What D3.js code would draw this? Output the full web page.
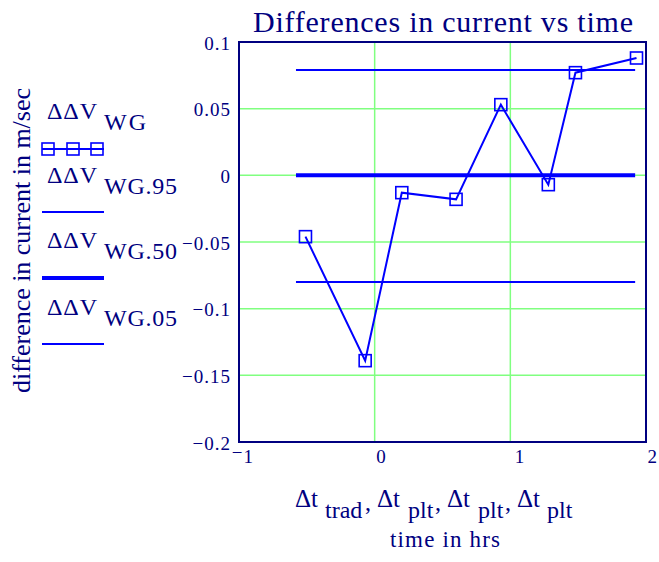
<!DOCTYPE html>
<html>
<head>
<meta charset="utf-8">
<title>Differences in current vs time</title>
<script src="https://d3js.org/d3.v7.min.js"></script>
<style>
    body { margin: 0; background: #fff; }
    svg { display: block; }
    svg text { font-family: "Liberation Serif", "Times New Roman", serif; fill: #000080; }
</style>
</head>
<body>
<svg width="659" height="562"></svg>
<script>
// data
var timeHrs = [-0.51, -0.07, 0.2, 0.6, 0.93, 1.28, 1.48, 1.93];
var diffWG  = [-0.046, -0.139, -0.013, -0.018, 0.053, -0.007, 0.077, 0.088];
var pctSpan = [-0.58, 1.92];
var pctNames  = ["WG.95", "WG.50", "WG.05"];
var pctValues = [0.079, 0, -0.08];
var xTicks = [-1, 0, 1, 2];
var yTicks = [0.1, 0.05, 0, -0.05, -0.1, -0.15, -0.2];
var xSubs = ["trad", "plt", "plt", "plt"];

var svg = d3.select("svg");
var navy = "#000080", blue = "#0000ff", green = "#80ff80";

var x = d3.scaleLinear().domain([-1, 2]).range([239, 646]);
var y = d3.scaleLinear().domain([-0.2, 0.1]).range([442, 42]);

function fmtY(v) {
    return String(+v.toFixed(2)).replace("-", "\u2212");
}
function fmtX(v) {
    return String(Math.abs(v));
}

// grid
svg.append("g").selectAll("line").data(xTicks.slice(1, -1)).join("line")
    .attr("x1", d => x(d)).attr("x2", d => x(d))
    .attr("y1", y(0.1)).attr("y2", y(-0.2))
    .attr("stroke", green).attr("stroke-width", 1.5);
svg.append("g").selectAll("line").data(yTicks.slice(1, -1)).join("line")
    .attr("x1", x(-1)).attr("x2", x(2))
    .attr("y1", d => y(d)).attr("y2", d => y(d))
    .attr("stroke", green).attr("stroke-width", 1.5);

// axes (labels only, Mathcad style)
var gy = svg.append("g").attr("transform", "translate(" + (x(-1) - 8) + ",0)")
    .call(d3.axisLeft(y).tickValues(yTicks).tickSize(0).tickPadding(0).tickFormat(fmtY));
gy.select(".domain").remove();
gy.selectAll("text").style("font-size", "19px").style("letter-spacing", "1px")
    .attr("dy", 7);

var gx = svg.append("g").attr("transform", "translate(0," + (y(-0.2) + 21) + ")")
    .call(d3.axisBottom(x).tickValues(xTicks).tickSize(0).tickPadding(0).tickFormat(fmtX));
gx.select(".domain").remove();
gx.selectAll("text").style("font-size", "19px")
    .attr("text-anchor", "start").attr("dy", 0).attr("dx", d => d === 1 || d === -1 ? 4 : 1);
gx.selectAll(".tick").filter(d => d < 0).append("text")
    .attr("x", 3).attr("y", -4).attr("text-anchor", "end").style("font-size", "19px")
    .text("\u2212");

// percentile lines
svg.append("g").selectAll("line").data(pctValues).join("line")
    .attr("x1", x(pctSpan[0])).attr("x2", x(pctSpan[1]))
    .attr("y1", d => y(d)).attr("y2", d => y(d))
    .attr("stroke", blue).attr("stroke-width", (d, i) => i === 1 ? 4 : 2);

// data series
var pts = timeHrs.map((t, i) => [t, diffWG[i]]);
svg.append("path").datum(pts)
    .attr("fill", "none").attr("stroke", blue).attr("stroke-width", 2)
    .attr("d", d3.line().x(d => x(d[0])).y(d => y(d[1])));
svg.append("g").selectAll("rect").data(pts).join("rect")
    .attr("x", d => x(d[0]) - 6).attr("y", d => y(d[1]) - 6)
    .attr("width", 12).attr("height", 12)
    .attr("fill", "none").attr("stroke", blue).attr("stroke-width", 1.6);

// frame
svg.append("rect").attr("x", x(-1)).attr("y", y(0.1))
    .attr("width", x(2) - x(-1)).attr("height", y(-0.2) - y(0.1))
    .attr("fill", "none").attr("stroke", navy).attr("stroke-width", 2);

// title
svg.append("text").attr("x", 253).attr("y", 32).style("font-size", "30px")
    .attr("textLength", 380).attr("lengthAdjust", "spacing")
    .text("Differences in current vs time");

// y label
svg.append("text").attr("transform", "translate(30,240.5) rotate(-90)")
    .attr("x", -152.5).style("font-size", "26px")
    .attr("textLength", 305).attr("lengthAdjust", "spacing")
    .text("difference in current in m/sec");

// x label
var subX = [325, 408, 478, 547];
var dtX = [295, 377, 447, 517];
var xl = svg.append("g");
xSubs.forEach(function (s, i) {
    if (i > 0) xl.append("text").attr("x", dtX[i] - 12).attr("y", 510)
        .style("font-size", "24px").text(",");
    xl.append("text").attr("x", dtX[i]).attr("y", 507).style("font-size", "25px").text("\u0394t");
    xl.append("text").attr("x", subX[i]).attr("y", 518).style("font-size", "24px").text(s);
});
svg.append("text").attr("x", 390).attr("y", 547).style("font-size", "23px")
    .attr("textLength", 110).attr("lengthAdjust", "spacing").text("time in hrs");

// legend
var legNames = ["WG"].concat(pctNames);
var leg = svg.append("g").selectAll("g").data(legNames).join("g")
    .attr("transform", (d, i) => "translate(0," + [0, 64, 129, 196][i] + ")");
leg.append("text").attr("x", 47).attr("y", 119).style("font-size", "24px")
    .attr("textLength", 50).attr("lengthAdjust", "spacing").text("\u0394\u0394V");
leg.append("text").attr("x", 104).attr("y", 130).style("font-size", "24px")
    .attr("textLength", (d, i) => i === 0 ? 42 : 73).attr("lengthAdjust", "spacing")
    .text(d => d);
leg.append("line").attr("x1", 42).attr("x2", 104)
    .attr("y1", (d, i) => i === 2 ? 149 : 149 - (i ? 1 : 0))
    .attr("y2", (d, i) => i === 2 ? 149 : 149 - (i ? 1 : 0))
    .attr("stroke", blue).attr("stroke-width", (d, i) => i === 2 ? 4 : 2);
leg.filter((d, i) => i === 0).selectAll("rect").data([48, 73, 97]).join("rect")
    .attr("x", d => d - 6).attr("y", 143).attr("width", 12).attr("height", 12)
    .attr("fill", "none").attr("stroke", blue).attr("stroke-width", 1.6);
</script>
</body>
</html>
